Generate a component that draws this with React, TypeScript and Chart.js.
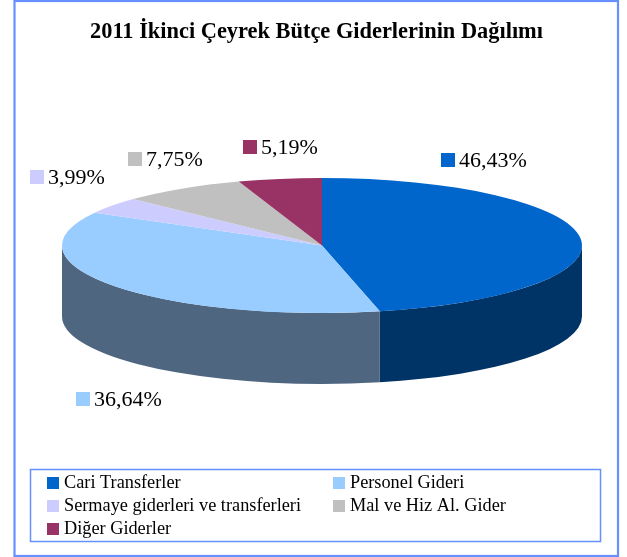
import React, { useEffect, useRef } from "react";
import { Chart, registerables } from "chart.js";

Chart.register(...registerables);

const titleText = "2011 İkinci Çeyrek Bütçe Giderlerinin Dağılımı";
const categories = ["Cari Transferler", "Personel Gideri", "Sermaye giderleri ve transferleri", "Mal ve Hiz Al. Gider", "Diğer Giderler"];
const shares = [46.43, 36.64, 3.99, 7.75, 5.19];
const topColors = ["#0066CC", "#99CCFF", "#CCCCFF", "#C0C0C0", "#993366"];
const wallColors = ["#003366", "#4F6680", "#6A6A80", "#606060", "#4D1A33"];

const SERIF = "'Liberation Serif', 'Times New Roman', serif";
const FRAME = "#6690FF";
const pie = { cx: 322, cy: 245.5, rx: 260, ry: 67.5, depth: 71 };
const labelSpots = [
  { x: 441, y: 160 },
  { x: 76, y: 399 },
  { x: 30, y: 177 },
  { x: 128, y: 159 },
  { x: 243, y: 147 },
];
const legendSpots = [
  { x: 47, y: 483 },
  { x: 333, y: 483 },
  { x: 47, y: 506 },
  { x: 333, y: 506 },
  { x: 47, y: 529 },
];

const pie3d = {
  id: "pie3d",
  beforeDatasetsDraw(chart: any) {
    const ctx = chart.ctx;
    const arcs = chart.getDatasetMeta(0).data;
    const { cx, cy, rx, ry, depth } = pie;
    arcs.forEach((arc: any, i: number) => {
      const a = Math.max(arc.startAngle, 0);
      const b = Math.min(arc.endAngle, Math.PI);
      if (b <= a) return;
      ctx.save();
      ctx.fillStyle = wallColors[i];
      ctx.beginPath();
      ctx.ellipse(cx, cy, rx, ry, 0, a, b, false);
      ctx.ellipse(cx, cy + depth, rx, ry, 0, b, a, true);
      ctx.closePath();
      ctx.fill();
      ctx.restore();
    });
  },
  beforeDatasetDraw(chart: any) {
    const ctx = chart.ctx;
    const first = chart.getDatasetMeta(0).data[0];
    ctx.save();
    ctx.translate(pie.cx, pie.cy);
    ctx.scale(1, pie.ry / pie.rx);
    ctx.translate(-first.x, -first.y);
  },
  afterDatasetDraw(chart: any) {
    chart.ctx.restore();
  },
};

const decorations = {
  id: "decorations",
  afterDraw(chart: any) {
    const ctx = chart.ctx;
    ctx.save();
    ctx.strokeStyle = FRAME;
    ctx.lineWidth = 2.2;
    ctx.strokeRect(14.5, 1, 603.5, 555);
    ctx.lineWidth = 1.5;
    ctx.strokeRect(30.5, 469.5, 570, 72);

    ctx.textBaseline = "middle";
    ctx.textAlign = "left";
    ctx.fillStyle = "#000";

    const values = chart.data.datasets[0].data as number[];
    ctx.font = `22px ${SERIF}`;
    values.forEach((v, i) => {
      const s = labelSpots[i];
      ctx.fillStyle = topColors[i];
      ctx.fillRect(s.x, s.y - 7, 14, 14);
      ctx.fillStyle = "#000";
      ctx.fillText(v.toFixed(2).replace(".", ",") + "%", s.x + 18, s.y + 1);
    });

    ctx.font = `18.3px ${SERIF}`;
    (chart.data.labels as string[]).forEach((name, i) => {
      const s = legendSpots[i];
      ctx.fillStyle = topColors[i];
      ctx.fillRect(s.x, s.y - 6, 12, 12);
      ctx.fillStyle = "#000";
      ctx.fillText(name, s.x + 17, s.y);
    });
    ctx.restore();
  },
};

export default function App() {
  const ref = useRef<HTMLCanvasElement>(null);
  useEffect(() => {
    const chart = new Chart(ref.current!, {
      type: "pie",
      data: {
        labels: categories,
        datasets: [
          {
            data: shares,
            backgroundColor: topColors,
            borderWidth: 0,
            radius: pie.rx,
            clip: false,
          } as any,
        ],
      },
      options: {
        responsive: false,
        animation: false,
        devicePixelRatio: 1,
        layout: { padding: { left: 6, right: 0, top: 0, bottom: 0 } },
        plugins: {
          legend: { display: false },
          tooltip: { enabled: false },
          title: {
            display: true,
            text: titleText,
            color: "#000",
            font: { family: SERIF, size: 22.4, weight: "bold" },
            padding: { top: 19, bottom: 10 },
          },
        },
      },
      plugins: [pie3d, decorations],
    });
    return () => chart.destroy();
  }, []);
  return (
    <div style={{ position: "absolute", left: 0, top: 0, width: 627, height: 557, background: "#fff" }}>
      <canvas ref={ref} width={627} height={557} style={{ display: "block" }} />
    </div>
  );
}
